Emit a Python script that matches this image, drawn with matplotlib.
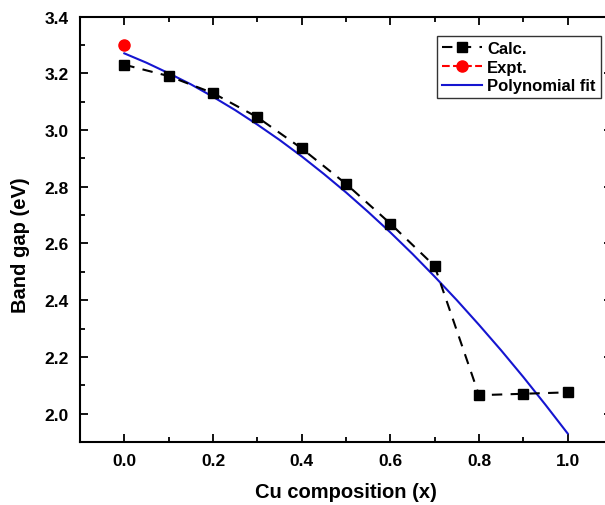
import matplotlib
matplotlib.use("Agg")
import matplotlib.pyplot as plt
from matplotlib.ticker import MultipleLocator

plt.rcParams['font.family'] = ['Liberation Sans', 'DejaVu Sans']
plt.rcParams['font.weight'] = 'bold'

calc_x = [0.0, 0.1, 0.2, 0.3, 0.4, 0.5, 0.6, 0.7, 0.8, 0.9, 1.0]
calc_y = [3.23, 3.19, 3.13, 3.045, 2.935, 2.81, 2.67, 2.52, 2.065, 2.07, 2.075]
expt_x = [0.0]
expt_y = [3.30]
fit_x = [0.0, 0.05, 0.1, 0.15, 0.2, 0.25, 0.3, 0.35, 0.4, 0.45, 0.5,
         0.55, 0.6, 0.65, 0.7, 0.75, 0.8, 0.85, 0.9, 0.95, 1.0]
fit_y = [3.27, 3.237, 3.20, 3.161, 3.117, 3.070, 3.019, 2.965, 2.907, 2.845, 2.78,
         2.711, 2.639, 2.563, 2.483, 2.400, 2.313, 2.223, 2.129, 2.031, 1.93]

fig = plt.figure(figsize=(6.05, 5.06), dpi=100)
ax = fig.add_axes([80/605, 63/506, 532/605, 425.5/506])

ax.plot(calc_x, calc_y, 'k--', marker='s', markersize=7.5, lw=1.5,
        dashes=(5, 4), label='Calc.', zorder=3)
ax.plot(expt_x, expt_y, color='red', ls='--', marker='o', markersize=8,
        lw=1.5, label='Expt.', zorder=4)
ax.plot(fit_x, fit_y, color='#1515d0', lw=1.5, label='Polynomial fit', zorder=2)

ax.set_xlim(-0.1, 1.1)
ax.set_ylim(1.9, 3.4)
ax.xaxis.set_major_locator(MultipleLocator(0.2))
ax.xaxis.set_minor_locator(MultipleLocator(0.1))
ax.yaxis.set_major_locator(MultipleLocator(0.2))
ax.yaxis.set_minor_locator(MultipleLocator(0.1))
ax.tick_params(which='both', direction='in', top=True, right=True, width=1.3)
ax.tick_params(which='major', length=6, labelsize=12.5, pad=8)
ax.tick_params(which='minor', length=3.5)
ax.set_xticks([0.0, 0.2, 0.4, 0.6, 0.8, 1.0])
ax.set_yticks([2.0, 2.2, 2.4, 2.6, 2.8, 3.0, 3.2, 3.4])
for lab in ax.get_xticklabels() + ax.get_yticklabels():
    lab.set_fontweight('bold')
for s in ax.spines.values():
    s.set_linewidth(1.5)

ax.set_xlabel('Cu composition (x)', fontsize=14.5, fontweight='bold')
ax.xaxis.set_label_coords((346 - 80) / 532, (443 - 483) / 425.5)
ax.set_ylabel('Band gap (eV)', fontsize=14.5, fontweight='bold')
ax.yaxis.set_label_coords((30 - 80) / 532, (443 - 245) / 425.5)

leg = ax.legend(loc='upper left', fontsize=12, frameon=True,
                fancybox=False, edgecolor='black', handlelength=2.4,
                handletextpad=0.3, borderpad=0.3, labelspacing=0.22,
                borderaxespad=0)
leg.set_bbox_to_anchor((437/605, (506-37)/506), transform=fig.transFigure)
leg.get_frame().set_linewidth(1.0)
for t in leg.get_texts():
    t.set_fontweight('bold')

fig.savefig('out.png', dpi=100)
